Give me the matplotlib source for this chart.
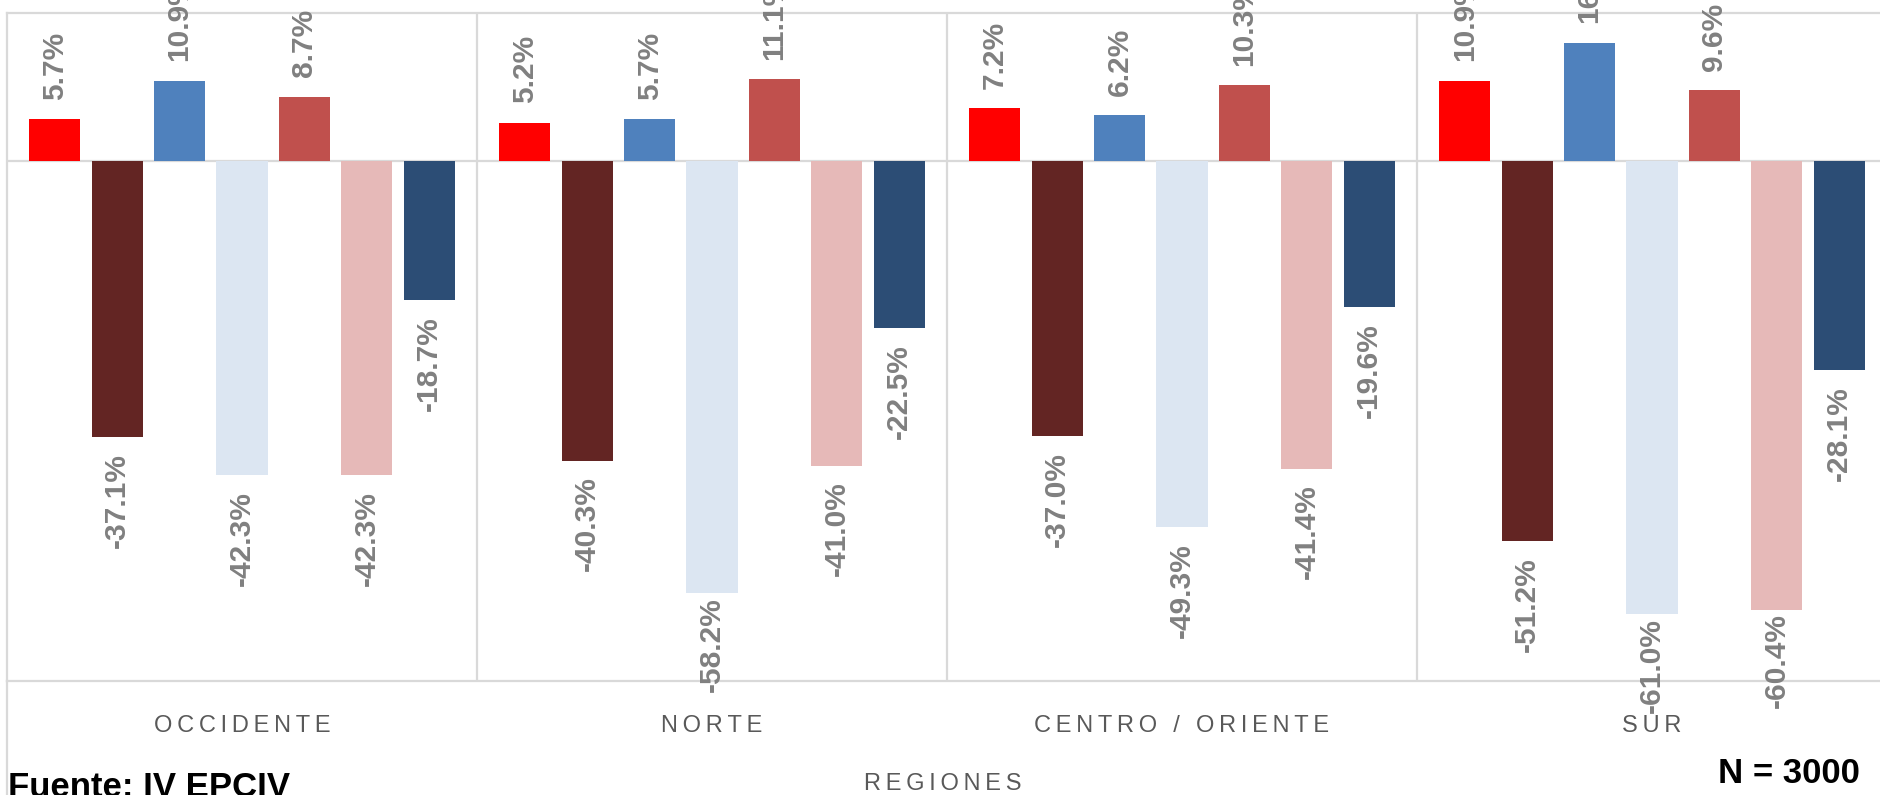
import numpy as np
import matplotlib
matplotlib.use('Agg')
import matplotlib.pyplot as plt

# data (percent)
regions = ['OCCIDENTE', 'NORTE', 'CENTRO / ORIENTE', 'SUR']
serie_1 = [5.7, 5.2, 7.2, 10.9]
serie_2 = [-37.1, -40.3, -37.0, -51.2]
serie_3 = [10.9, 5.7, 6.2, 16.0]
serie_4 = [-42.3, -58.2, -49.3, -61.0]
serie_5 = [8.7, 11.1, 10.3, 9.6]
serie_6 = [-42.3, -41.0, -41.4, -60.4]
serie_7 = [-18.7, -22.5, -19.6, -28.1]

series = [serie_1, serie_2, serie_3, serie_4, serie_5, serie_6, serie_7]
colors = ['#FF0000', '#632523', '#4F81BD', '#DCE6F2', '#C0504D', '#E6B9B8', '#2C4D75']

# settings
grid_color = '#D9D9D9'
label_color = '#808080'
tick_color = '#595959'
label_font = ['Liberation Sans Narrow', 'Liberation Sans', 'DejaVu Sans']
text_font = ['Liberation Sans', 'DejaVu Sans']
step = 0.1328
bar_width = 0.109


def spaced(text):
    return '\u2009'.join(text)


fig = plt.figure(figsize=(18.8, 7.95), dpi=100)
ax = fig.add_axes([7 / 1880, 114 / 795, 1.0, 668 / 795])

x = np.arange(len(regions))
for i, values in enumerate(series):
    pos = x + (i - 3) * step
    ax.bar(pos, values, width=bar_width, color=colors[i], linewidth=0, zorder=3)
    for xp, v in zip(pos, values):
        if v >= 0:
            off, va = 14.0, 'bottom'
        elif v < -55:
            off, va = -2.5, 'top'
        else:
            off, va = -11.5, 'top'
        ax.annotate(f'{v:.1f}%', xy=(xp, v), xytext=(0, off), textcoords='offset points',
                    rotation=90, ha='center', va=va, fontsize=21.5, fontweight='bold',
                    color=label_color, family=label_font, annotation_clip=False, zorder=4)

ax.set_xlim(-0.5, len(regions) - 0.5)
ax.set_ylim(-70, 20)

# frame and separators
for side in ['left', 'right', 'top', 'bottom']:
    ax.spines[side].set_color(grid_color)
    ax.spines[side].set_linewidth(1.6)
ax.axhline(0, color=grid_color, linewidth=1.6, zorder=2)
for sep in x[:-1] + 0.5:
    ax.axvline(sep, color=grid_color, linewidth=1.6, zorder=1)
ax.axvline(-0.5, ymin=-0.2, ymax=0, color=grid_color, linewidth=1.6, clip_on=False)

ax.set_xticks([])
ax.set_yticks([])

# category labels
for xi, name in zip(x, regions):
    ax.annotate(spaced(name), xy=(xi, 0), xycoords=('data', 'axes fraction'),
                xytext=(0, -36.4), textcoords='offset points', ha='center', va='baseline',
                fontsize=17, color=tick_color, family=text_font, annotation_clip=False)

fig.text(943 / 1880, 5 / 795, spaced('REGIONES'), ha='center', va='baseline',
         fontsize=17, color=tick_color, family=text_font)
fig.text(8 / 1880, -2 / 795, 'Fuente: IV EPCIV', ha='left', va='baseline',
         fontsize=25, fontweight='bold', color='black', family=text_font)
fig.text(1860 / 1880, 12 / 795, 'N = 3000', ha='right', va='baseline',
         fontsize=25, fontweight='bold', color='black', family=text_font)

fig.savefig('out.png', dpi=100)
